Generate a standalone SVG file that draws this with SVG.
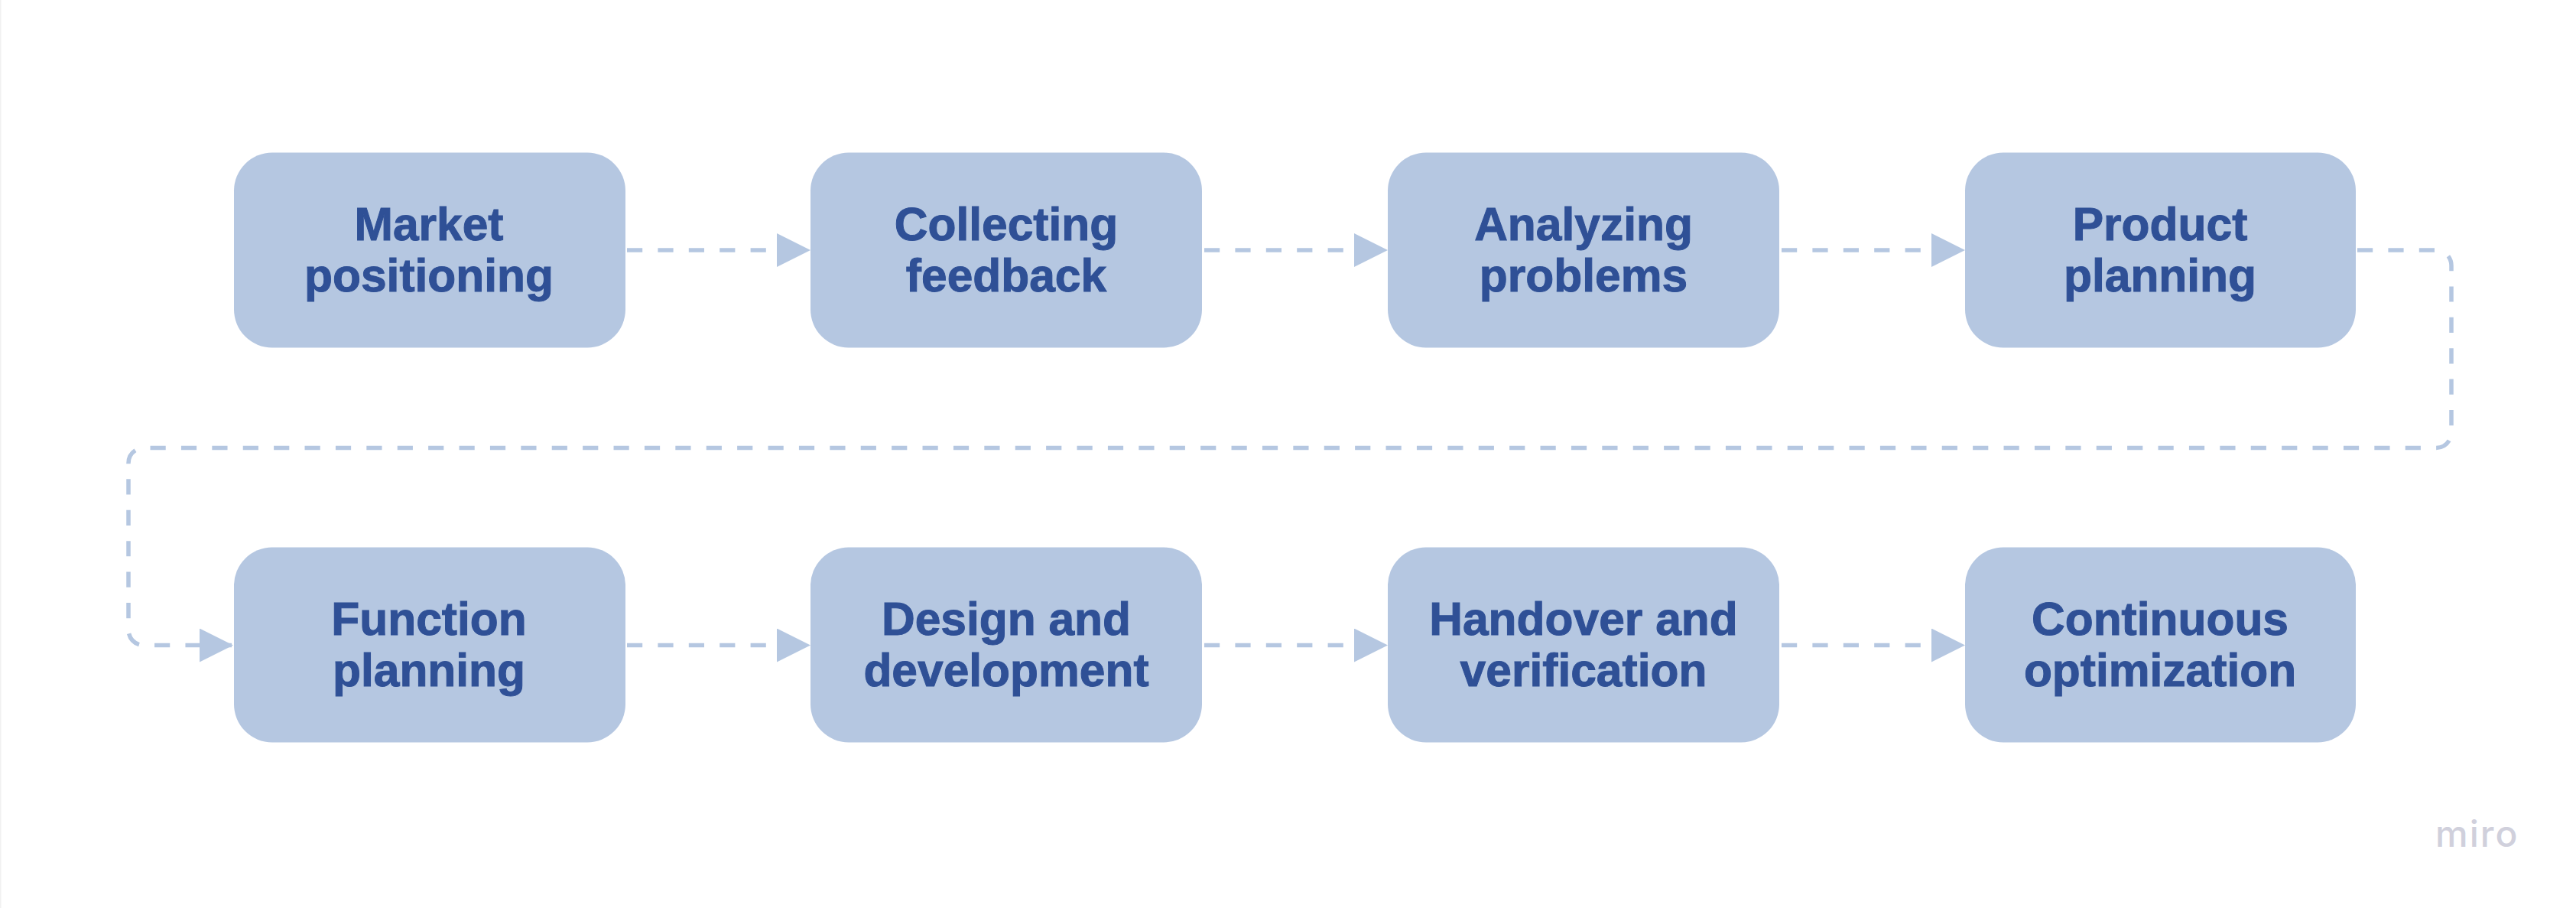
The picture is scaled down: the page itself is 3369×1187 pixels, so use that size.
<svg xmlns="http://www.w3.org/2000/svg" width="3369" height="1187" viewBox="0 0 3369 1187">
<style>
.box{fill:#b5c7e1}
.lbl{font-family:"Liberation Sans",Arial,sans-serif;font-weight:700;font-size:60.5px;fill:#2f5096;text-anchor:middle;stroke:#2f5096;stroke-width:1px}
.wire{fill:none;stroke:#b5c7e1;stroke-width:5.5;stroke-dasharray:20.2 20.2}
</style>
<defs>
<marker id="arrow" markerUnits="userSpaceOnUse" markerWidth="44" markerHeight="44" refX="44" refY="22" orient="auto"><path d="M0 0L44 22L0 44Z" fill="#b5c7e1"/></marker>
</defs>
<rect width="3369" height="1187" fill="#fff"/>
<rect width="1.5" height="1187" fill="#f1f1f1"/>
<g id="connectors">
<path class="wire" marker-end="url(#arrow)" d="M820 327H1060"/>
<path class="wire" marker-end="url(#arrow)" d="M1575 327H1815"/>
<path class="wire" marker-end="url(#arrow)" d="M2330 327H2570"/>
<path class="wire" marker-end="url(#arrow)" d="M3083 327H3186A20 20 0 0 1 3206 347V565.5A20 20 0 0 1 3186 585.5H188A20 20 0 0 0 168 605.5V823.5A20 20 0 0 0 188 843.5H305"/>
<path class="wire" marker-end="url(#arrow)" d="M820 843.5H1060"/>
<path class="wire" marker-end="url(#arrow)" d="M1575 843.5H1815"/>
<path class="wire" marker-end="url(#arrow)" d="M2330 843.5H2570"/>
</g>
<g id="n1"><rect class="box" x="306" y="199.5" width="512" height="255" rx="50"/><text class="lbl" x="561" y="313.5">Market</text><text class="lbl" x="561" y="381">positioning</text></g>
<g id="n2"><rect class="box" x="1060" y="199.5" width="512" height="255" rx="50"/><text class="lbl" x="1316" y="313.5">Collecting</text><text class="lbl" x="1316" y="381">feedback</text></g>
<g id="n3"><rect class="box" x="1815" y="199.5" width="512" height="255" rx="50"/><text class="lbl" x="2071" y="313.5">Analyzing</text><text class="lbl" x="2071" y="381">problems</text></g>
<g id="n4"><rect class="box" x="2570" y="199.5" width="511" height="255" rx="50"/><text class="lbl" x="2825" y="313.5">Product</text><text class="lbl" x="2825" y="381">planning</text></g>
<g id="n5"><rect class="box" x="306" y="715.5" width="512" height="255" rx="50"/><text class="lbl" x="561" y="829.5">Function</text><text class="lbl" x="561" y="897">planning</text></g>
<g id="n6"><rect class="box" x="1060" y="715.5" width="512" height="255" rx="50"/><text class="lbl" x="1316" y="829.5">Design and</text><text class="lbl" x="1316" y="897">development</text></g>
<g id="n7"><rect class="box" x="1815" y="715.5" width="512" height="255" rx="50"/><text class="lbl" x="2071" y="829.5">Handover and</text><text class="lbl" x="2071" y="897">verification</text></g>
<g id="n8"><rect class="box" x="2570" y="715.5" width="511" height="255" rx="50"/><text class="lbl" x="2825" y="829.5">Continuous</text><text class="lbl" x="2825" y="897">optimization</text></g>
<text x="3185" y="1107" font-family="Inter,Lato,sans-serif" font-size="48" font-weight="500" letter-spacing="2" fill="#d0d0dc">miro</text>
</svg>
